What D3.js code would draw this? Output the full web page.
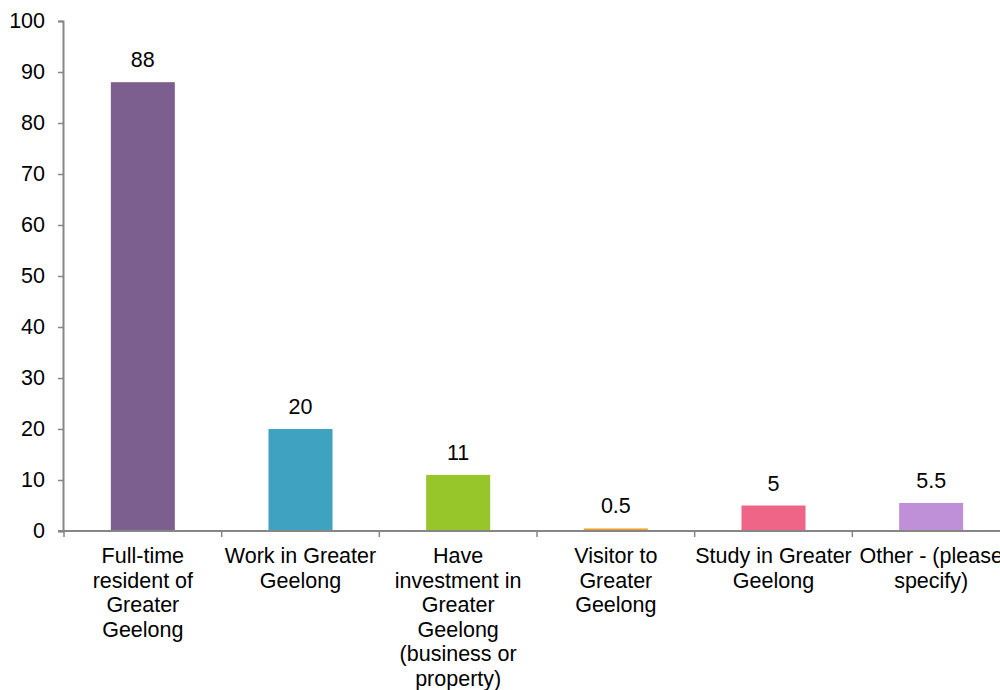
<!DOCTYPE html>
<html>
<head>
<meta charset="utf-8">
<script src="https://cdn.jsdelivr.net/npm/d3@7"></script>
<style>
  body { margin: 0; background: #fff; }
  svg { display: block; font-family: "Liberation Sans", Arial, sans-serif; }
</style>
</head>
<body>
<div id="chart"></div>
<script>
// data
let categories = [
    ["Full-time", "resident of", "Greater", "Geelong"],
    ["Work in Greater", "Geelong"],
    ["Have", "investment in", "Greater", "Geelong", "(business or", "property)"],
    ["Visitor to", "Greater", "Geelong"],
    ["Study in Greater", "Geelong"],
    ["Other - (please", "specify)"]
];
let values = [88, 20, 11, 0.5, 5, 5.5];
let colors = ["#7c5f8e", "#40a2c1", "#96c62a", "#f0a12a", "#ef6587", "#bf8fd7"];
let yTicks = [0, 10, 20, 30, 40, 50, 60, 70, 80, 90, 100];

let width = 1000, height = 690;
let plotLeft = 64, plotRight = 1010, plotTop = 21, plotBottom = 531;
let fontSize = 21.5;

let svg = d3.select("#chart").append("svg")
    .attr("width", width)
    .attr("height", height);

let x_scale = d3.scaleBand()
    .domain(d3.range(values.length))
    .range([plotLeft, plotRight])
    .paddingInner(0.594)
    .paddingOuter(0.297);

let y_scale = d3.scaleLinear()
    .domain([0, 100])
    .range([plotBottom, plotTop]);

// bars
svg.selectAll("rect.bar")
    .data(values)
    .enter().append("rect")
    .attr("class", "bar")
    .attr("x", (d, i) => x_scale(i))
    .attr("y", d => y_scale(d))
    .attr("width", x_scale.bandwidth())
    .attr("height", d => plotBottom - y_scale(d))
    .attr("fill", (d, i) => colors[i]);

// value labels
svg.selectAll("text.value")
    .data(values)
    .enter().append("text")
    .attr("class", "value")
    .attr("x", (d, i) => x_scale(i) + x_scale.bandwidth() / 2)
    .attr("y", d => y_scale(d) - 15)
    .attr("text-anchor", "middle")
    .attr("font-size", fontSize)
    .attr("fill", "#000")
    .text(d => d);

// y axis
let yAxis = svg.append("g")
    .attr("transform", `translate(${plotLeft - 1},0)`)
    .call(d3.axisLeft(y_scale).tickValues(yTicks).tickSize(5).tickPadding(13));
yAxis.select(".domain").attr("stroke", "#868686").attr("stroke-width", 2);
yAxis.selectAll(".tick line").attr("stroke", "#868686").attr("stroke-width", 1.5);
yAxis.selectAll(".tick text")
    .attr("font-size", fontSize)
    .attr("font-family", "Liberation Sans, Arial, sans-serif")
    .attr("fill", "#000");

// x axis line and category separators
let sepScale = d3.scaleLinear().domain([0, values.length]).range([plotLeft, plotRight]);
svg.append("line")
    .attr("x1", plotLeft - 6).attr("x2", plotRight)
    .attr("y1", plotBottom).attr("y2", plotBottom)
    .attr("stroke", "#868686").attr("stroke-width", 2);
svg.selectAll("line.sep")
    .data(d3.range(values.length + 1))
    .enter().append("line")
    .attr("class", "sep")
    .attr("x1", d => sepScale(d)).attr("x2", d => sepScale(d))
    .attr("y1", plotBottom).attr("y2", plotBottom + 6)
    .attr("stroke", "#868686").attr("stroke-width", 1.5);

// category labels
let labels = svg.selectAll("text.cat")
    .data(categories)
    .enter().append("text")
    .attr("class", "cat")
    .attr("text-anchor", "middle")
    .attr("font-size", fontSize)
    .attr("fill", "#000");
labels.each(function(lines, i) {
    let t = d3.select(this);
    let cx = x_scale(i) + x_scale.bandwidth() / 2;
    lines.forEach((line, j) => {
        t.append("tspan")
            .attr("x", cx)
            .attr("y", plotBottom + 32 + j * 24.5)
            .text(line);
    });
});
</script>
</body>
</html>
